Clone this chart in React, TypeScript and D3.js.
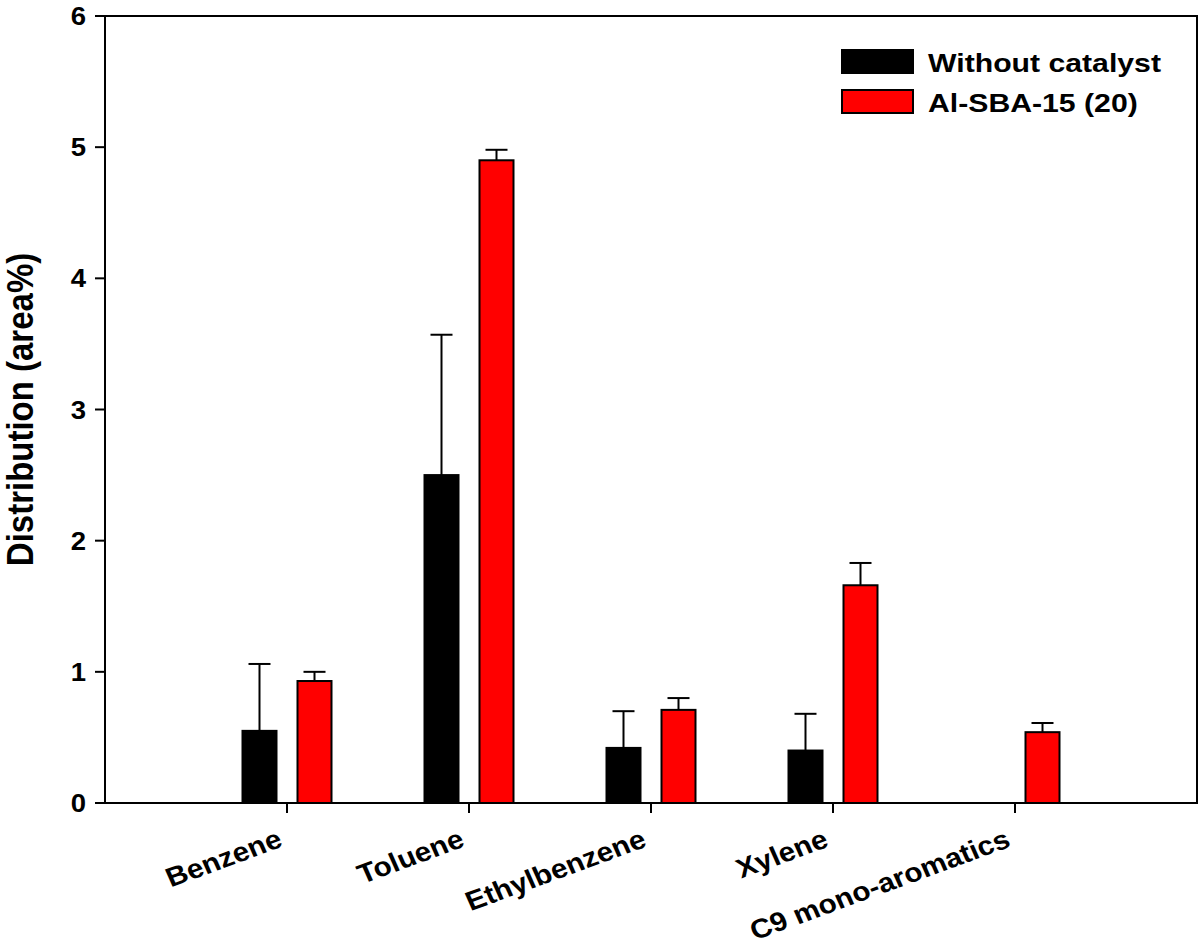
import React from "react";
import * as d3 from "d3";

const categories = ["Benzene", "Toluene", "Ethylbenzene", "Xylene", "C9 mono-aromatics"];
const seriesNames = ["Without catalyst", "Al-SBA-15 (20)"];
const seriesColors = ["#000000", "#ff0000"];
const withoutCatalyst = [0.55, 2.5, 0.42, 0.4, 0];
const withoutCatalystErr = [0.51, 1.07, 0.28, 0.28, 0];
const alSba = [0.93, 4.9, 0.71, 1.66, 0.54];
const alSbaErr = [0.07, 0.08, 0.09, 0.17, 0.07];
const yTicks = [0, 1, 2, 3, 4, 5, 6];

const W = 1200;
const H = 946;
const left = 105;
const right = 1197;
const top = 16;
const bottom = 803;
const FONT = "'Liberation Sans', Arial, Helvetica, sans-serif";
const SX = 1.1;

export default function App() {
  const x = d3.scaleLinear().domain([0, categories.length + 1]).range([left, right]);
  const y = d3.scaleLinear().domain([0, 6]).range([bottom, top]);
  const barW = 34;
  const offsets = [-27.5, 27.5];
  const series = [
    { vals: withoutCatalyst, errs: withoutCatalystErr },
    { vals: alSba, errs: alSbaErr },
  ];

  return (
    <svg width={W} height={H} style={{ position: "absolute", left: 0, top: 0, background: "#fff" }}>
      <rect x={0} y={0} width={W} height={H} fill="#fff" />
      {series.map((s, si) =>
        categories.map((c, i) => {
          const v = s.vals[i];
          if (v <= 0) return null;
          const cx = x(i + 1) + offsets[si];
          const yTop = y(v);
          const yErr = y(v + s.errs[i]);
          return (
            <g key={`${si}-${i}`}>
              <line x1={cx} x2={cx} y1={yTop} y2={yErr} stroke="#000" strokeWidth={2} />
              <line x1={cx - 11} x2={cx + 11} y1={yErr} y2={yErr} stroke="#000" strokeWidth={2} />
              <rect
                x={cx - barW / 2}
                y={yTop}
                width={barW}
                height={y(0) - yTop}
                fill={seriesColors[si]}
                stroke="#000"
                strokeWidth={2}
              />
            </g>
          );
        })
      )}
      <rect x={left} y={top} width={right - left} height={bottom - top} fill="none" stroke="#000" strokeWidth={2} />
      {yTicks.map((t) => (
        <g key={t}>
          <line x1={left - 10} x2={left} y1={y(t)} y2={y(t)} stroke="#000" strokeWidth={2} />
          <text
            transform={`translate(86,${y(t) + 9}) scale(${SX},1)`}
            textAnchor="end"
            fontFamily={FONT}
            fontWeight="bold"
            fontSize={25}
          >
            {t}
          </text>
        </g>
      ))}
      {categories.map((c, i) => (
        <g key={c}>
          <line x1={x(i + 1)} x2={x(i + 1)} y1={bottom} y2={bottom + 10} stroke="#000" strokeWidth={2} />
          <text
            transform={`translate(${x(i + 1) - 3},${bottom + 43}) scale(${SX},1) rotate(-22)`}
            textAnchor="end"
            fontFamily={FONT}
            fontWeight="bold"
            fontSize={27}
          >
            {c}
          </text>
        </g>
      ))}
      <text
        transform={`translate(33,${(top + bottom) / 2}) scale(${SX},1) rotate(-90)`}
        textAnchor="middle"
        fontFamily={FONT}
        fontWeight="bold"
        fontSize={33}
      >
        Distribution (area%)
      </text>
      {seriesNames.map((n, i) => (
        <g key={n} transform={`translate(842,${50 + i * 40})`}>
          <rect x={0} y={0} width={71} height={23} fill={seriesColors[i]} stroke="#000" strokeWidth={2} />
          <text
            transform={`translate(86,22) scale(1.14,1)`}
            fontFamily={FONT}
            fontWeight="bold"
            fontSize={26.5}
          >
            {n}
          </text>
        </g>
      ))}
    </svg>
  );
}
